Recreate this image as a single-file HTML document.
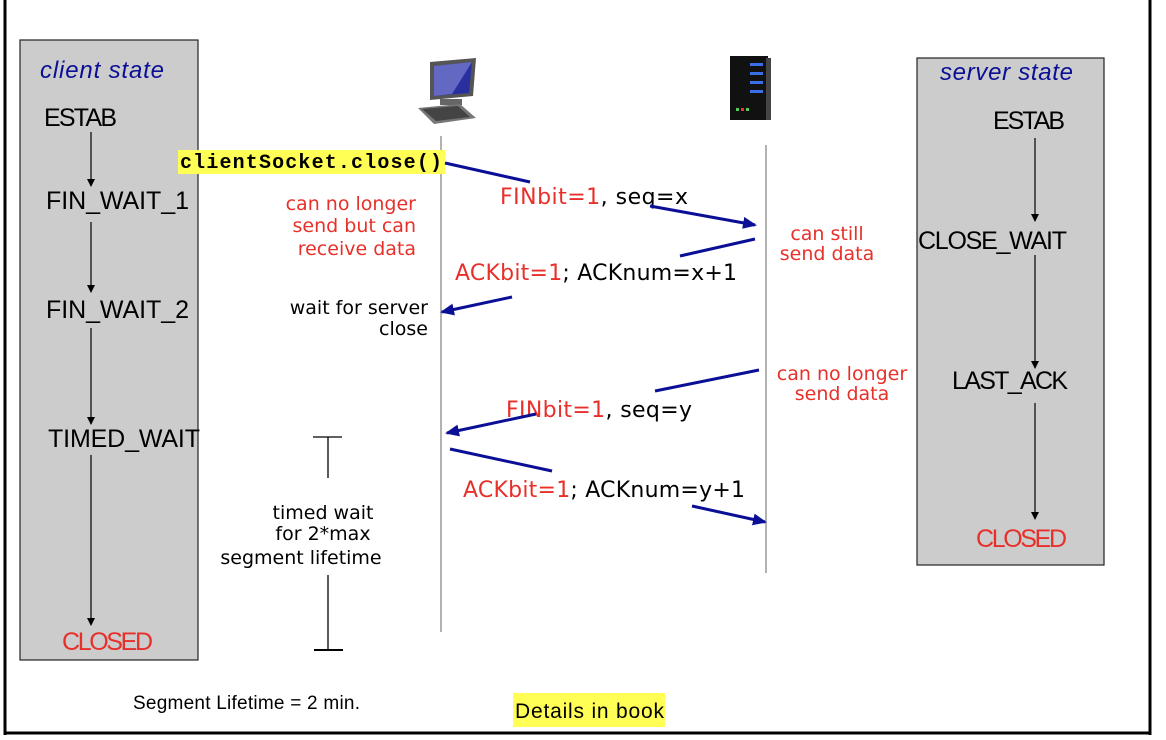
<!DOCTYPE html>
<html><head><meta charset="utf-8"><style>
html,body{margin:0;padding:0;background:#fff;width:1166px;height:740px;overflow:hidden}
svg{display:block}
text{font-family:"DejaVu Sans","Liberation Sans",sans-serif}
.st{font-size:25px;fill:#000;font-family:"Liberation Sans",sans-serif}
.r{fill:#e8302a}
.b{fill:#000}
</style></head><body>
<svg width="1166" height="740" viewBox="0 0 1166 740" xmlns="http://www.w3.org/2000/svg">
<defs>
<marker id="ah" markerWidth="8" markerHeight="8" refX="7" refY="4" orient="auto" markerUnits="userSpaceOnUse"><path d="M0,0 L8,4 L0,8 z" fill="#000"/></marker>
<marker id="bh" markerWidth="14" markerHeight="12" refX="12" refY="6" orient="auto" markerUnits="userSpaceOnUse"><path d="M0,0 L14,6 L0,12 z" fill="#0a0f96"/></marker>
</defs>
<line x1="5" y1="0" x2="5" y2="735" stroke="#000" stroke-width="3"/>
<line x1="1150" y1="0" x2="1150" y2="735" stroke="#000" stroke-width="3"/>
<line x1="4" y1="733" x2="1151" y2="733" stroke="#000" stroke-width="3"/>
<rect x="20" y="40" width="178" height="620" fill="#cccccc" stroke="#222" stroke-width="1.2"/>
<rect x="917" y="58" width="187" height="507" fill="#cccccc" stroke="#222" stroke-width="1.2"/>
<text x="40" y="78" font-size="24" font-style="italic" fill="#0a0f96" textLength="124" style="font-family:'Liberation Sans',sans-serif">client state</text>
<text x="940" y="80" font-size="24" font-style="italic" fill="#0a0f96" textLength="133" style="font-family:'Liberation Sans',sans-serif">server state</text>
<text class="st" x="44" y="126" textLength="73">ESTAB</text>
<text class="st" x="46" y="209" textLength="143">FIN_WAIT_1</text>
<text class="st" x="46" y="318" textLength="143">FIN_WAIT_2</text>
<text class="st" x="48" y="447" textLength="152">TIMED_WAIT</text>
<text class="st r" x="62" y="650" textLength="91">CLOSED</text>
<g stroke="#000" stroke-width="1.2" marker-end="url(#ah)">
<line x1="91" y1="132" x2="91" y2="186"/>
<line x1="91" y1="222" x2="91" y2="292"/>
<line x1="91" y1="328" x2="91" y2="424"/>
<line x1="91" y1="455" x2="91" y2="625"/>
<line x1="1035" y1="138" x2="1035" y2="221"/>
<line x1="1035" y1="255" x2="1035" y2="368"/>
<line x1="1035" y1="403" x2="1035" y2="519"/>
</g>
<text class="st" x="993" y="129" textLength="72">ESTAB</text>
<text class="st" x="918" y="249" textLength="149">CLOSE_WAIT</text>
<text class="st" x="952" y="389" textLength="116">LAST_ACK</text>
<text class="st r" x="976" y="547" textLength="91">CLOSED</text>
<line x1="441" y1="136" x2="441" y2="632" stroke="#999" stroke-width="1.5"/>
<line x1="766" y1="145" x2="766" y2="573" stroke="#999" stroke-width="1.5"/>
<g>
<polygon points="430,62 476,58 473,96 430,100" fill="#555"/>
<polygon points="434,66 472,62 469,93 434,96" fill="#2a2fa0"/>
<polygon points="434,66 472,62 452,94 434,96" fill="#8a8fd8" opacity="0.6"/>
<rect x="440" y="99" width="22" height="6" fill="#666"/>
<polygon points="418,108 460,104 476,118 434,124" fill="#777"/>
<polygon points="422,109 458,106 470,117 436,121" fill="#444"/>
</g>
<g>
<rect x="730" y="56" width="38" height="64" fill="#111"/>
<rect x="766" y="58" width="5" height="62" fill="#444"/>
<rect x="750" y="63" width="13" height="3" fill="#3a6fe8"/>
<rect x="750" y="72" width="13" height="3" fill="#3a6fe8"/>
<rect x="750" y="81" width="13" height="3" fill="#3a6fe8"/>
<rect x="750" y="90" width="13" height="3" fill="#3a6fe8"/>
<rect x="736" y="108" width="3" height="3" fill="#5c5"/>
<rect x="741" y="108" width="3" height="3" fill="#e33"/>
<rect x="746" y="108" width="3" height="3" fill="#5c5"/>
</g>
<rect x="178" y="150" width="267" height="24" fill="#ffff55"/>
<text x="180" y="168" font-weight="bold" font-size="20" textLength="262" style="font-family:'Liberation Mono',monospace">clientSocket.close()</text>
<g font-size="19" class="r" text-anchor="end">
<text x="416" y="210">can no longer</text>
<text x="416" y="232">send but can</text>
<text x="416" y="255">receive data</text>
</g>
<g font-size="19" class="r" text-anchor="middle">
<text x="827" y="240">can still</text>
<text x="827" y="260">send data</text>
<text x="842" y="380">can no longer</text>
<text x="842" y="400">send data</text>
</g>
<g font-size="19" text-anchor="end">
<text x="428" y="314">wait for server</text>
<text x="428" y="335">close</text>
</g>
<g font-size="19" text-anchor="middle">
<text x="323" y="519">timed wait</text>
<text x="323" y="540">for 2*max</text>
<text x="301" y="564">segment lifetime</text>
</g>
<text x="500" y="204" font-size="22" textLength="188"><tspan class="r">FINbit=1</tspan>, seq=x</text>
<text x="455" y="280" font-size="22" textLength="282"><tspan class="r">ACKbit=1</tspan>; ACKnum=x+1</text>
<text x="506" y="417" font-size="22" textLength="186"><tspan class="r">FINbit=1</tspan>, seq=y</text>
<text x="463" y="497" font-size="22" textLength="282"><tspan class="r">ACKbit=1</tspan>; ACKnum=y+1</text>
<g stroke="#0a0f96" stroke-width="3" fill="none">
<line x1="445" y1="163" x2="530" y2="182"/>
<line x1="650" y1="206" x2="755" y2="225" marker-end="url(#bh)"/>
<line x1="755" y1="239" x2="680" y2="256"/>
<line x1="512" y1="297" x2="442" y2="312" marker-end="url(#bh)"/>
<line x1="759" y1="370" x2="655" y2="391"/>
<line x1="536" y1="414" x2="447" y2="433" marker-end="url(#bh)"/>
<line x1="450" y1="449" x2="552" y2="471"/>
<line x1="692" y1="506" x2="765" y2="522" marker-end="url(#bh)"/>
</g>
<g stroke="#000" stroke-width="1.3">
<line x1="313" y1="437" x2="342" y2="437"/>
<line x1="328" y1="437" x2="328" y2="478"/>
<line x1="328" y1="575" x2="328" y2="650"/>
<line x1="314" y1="650" x2="343" y2="650" stroke-width="2"/>
</g>
<text x="133" y="709" font-size="19" textLength="227" style="font-family:'Liberation Sans',sans-serif">Segment Lifetime = 2 min.</text>
<rect x="513" y="693" width="152" height="34" fill="#ffff55"/>
<text x="515" y="718" font-size="21" textLength="149" style="font-family:'Liberation Sans',sans-serif">Details in book</text>
</svg>
</body></html>
